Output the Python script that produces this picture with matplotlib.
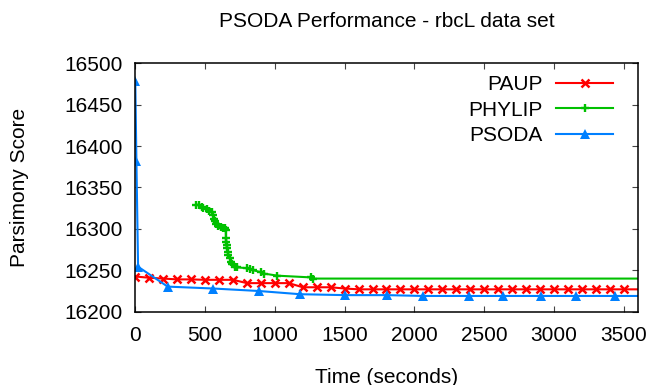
import matplotlib
matplotlib.use("Agg")
import matplotlib.pyplot as plt

# ---- data ----
paup_t = [0, 100, 200, 300, 400, 500, 600, 700, 800, 900, 1000, 1100, 1200, 1300,
          1400, 1500, 1600, 1700, 1800, 1900, 2000, 2100, 2200, 2300, 2400, 2500,
          2600, 2700, 2800, 2900, 3000, 3100, 3200, 3300, 3400, 3500, 3700]
paup_v = [16242.5, 16241, 16240, 16239, 16239, 16238.5, 16238.5, 16238.5, 16234.5,
          16234.5, 16234.5, 16234.5, 16229.5, 16229.5, 16229.5, 16228, 16227, 16227,
          16227, 16227, 16227, 16227, 16227, 16227, 16227, 16227, 16227, 16227, 16227,
          16227, 16227, 16227, 16227, 16227, 16227, 16227, 16227]

phylip_t = [437, 456, 476, 485, 516, 528, 552, 557, 564, 571, 581, 595, 612, 629, 645,
            648, 650, 652, 654, 658, 663, 667, 677, 686, 696, 715, 732, 804, 821, 840,
            900, 924, 1019, 1260, 1277, 3700]
phylip_v = [16329.4, 16328.5, 16326.5, 16325.3, 16323.7, 16322, 16320.5, 16317.3,
            16312.5, 16309.3, 16306.5, 16303.6, 16301.7, 16300.5, 16300.5, 16299,
            16288.5, 16284.4, 16280.4, 16276.5, 16272.4, 16268.4, 16264.4, 16260.3,
            16257.2, 16254.3, 16253.6, 16252.4, 16251.6, 16250.4, 16247.6, 16246,
            16243.5, 16241.4, 16240, 16240]

psoda_t = [0, 8, 20, 232, 558, 885, 1182, 1506, 1804, 2063, 2389, 2636, 2909, 3161,
           3435, 3700]
psoda_v = [16479, 16382, 16254.3, 16230.3, 16228, 16225, 16221.1, 16220, 16220, 16219,
           16219, 16219, 16219, 16219, 16219, 16219]

xticks = [0, 500, 1000, 1500, 2000, 2500, 3000, 3500]
yticks = [16200, 16250, 16300, 16350, 16400, 16450, 16500]

plt.rcParams['font.family'] = ['Liberation Sans', 'DejaVu Sans']

fig = plt.figure(figsize=(6.52, 3.85), dpi=100)
ax = fig.add_axes([0.2075, 0.1904, 0.7705, 0.6452])

ax.plot(paup_t, paup_v, color='#ff0000', lw=1.5, marker='x', ms=6, mew=1.8,
        label='PAUP')
ax.plot(phylip_t, phylip_v, color='#00c000', lw=1.5, marker='+', ms=6, mew=1.7,
        label='PHYLIP')
ax.plot(psoda_t, psoda_v, color='#0080ff', lw=1.5, marker='^', ms=7, mew=0,
        label='PSODA')

ax.set_xlim(0, 3600)
ax.set_ylim(16200, 16500)
ax.set_xticks(xticks)
ax.set_yticks(yticks)
ax.tick_params(direction='in', length=4.5, width=0.8, color='#444444',
               top=True, right=True, labelsize=15, labelcolor='black')
ax.tick_params(axis='x', pad=10)
ax.tick_params(axis='y', pad=9)
for s in ax.spines.values():
    s.set_linewidth(1.1)
    s.set_color('black')

ax.set_title('PSODA Performance - rbcL data set', fontsize=15, pad=26)
ax.set_xlabel('Time (seconds)', fontsize=15, va='center')
ax.xaxis.set_label_coords(0.5, -0.263)
ax.set_ylabel('Parsimony Score', fontsize=15, va='center')
ax.yaxis.set_label_coords(-0.2295, 0.5)

ax.legend(loc='upper right', bbox_to_anchor=(0.9503, 0.951), frameon=False,
          markerfirst=False, numpoints=1, fontsize=15, handlelength=2.7,
          handletextpad=0.66, labelspacing=0.3, borderaxespad=0, borderpad=0)

fig.savefig('out.png', dpi=100)
